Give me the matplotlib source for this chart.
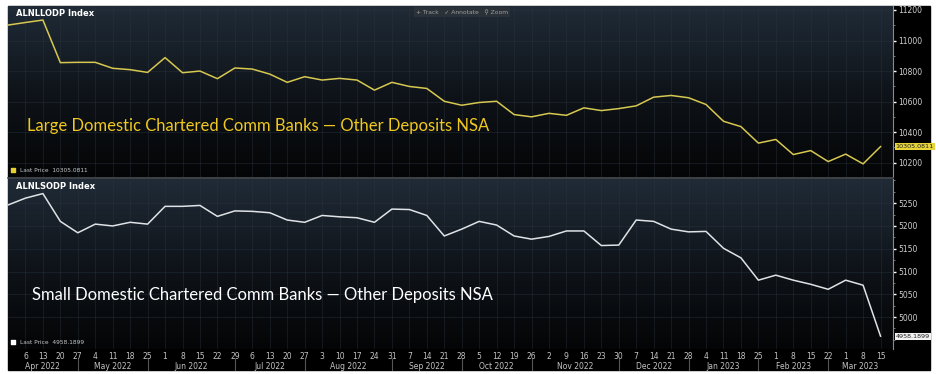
import numpy as np
import pandas as pd
import matplotlib
matplotlib.use("Agg")
import matplotlib.pyplot as plt
from matplotlib.colors import LinearSegmentedColormap
from matplotlib.lines import Line2D
from matplotlib.patches import Rectangle
from matplotlib.transforms import blended_transform_factory

# weekly observations (Wednesdays), Mar 30 2022 .. Mar 15 2023
dates = pd.date_range("2022-03-30", "2023-03-15", freq="7D")

large_deposits = [11101, 11118, 11134, 10855, 10857, 10857, 10818, 10809, 10791,
                  10888, 10789, 10800, 10750, 10820, 10813, 10780, 10726, 10763,
                  10741, 10752, 10741, 10675, 10726, 10699, 10686, 10602, 10576,
                  10594, 10602, 10515, 10500, 10523, 10510, 10559, 10541, 10554,
                  10572, 10629, 10640, 10625, 10581, 10471, 10436, 10328, 10352,
                  10253, 10279, 10207, 10256, 10192, 10305.0811]

small_deposits = [5246, 5261, 5271, 5210, 5185, 5204, 5200, 5208, 5204,
                  5243, 5243, 5245, 5221, 5233, 5232, 5229, 5213, 5208,
                  5223, 5220, 5218, 5208, 5237, 5236, 5223, 5178, 5193,
                  5210, 5202, 5178, 5171, 5177, 5189, 5189, 5157, 5158,
                  5213, 5210, 5193, 5187, 5188, 5151, 5130, 5081, 5092,
                  5081, 5072, 5061, 5081, 5070, 4958.1899]

large_ticks = [10200, 10400, 10600, 10800, 11000, 11200]
small_ticks = [5000, 5050, 5100, 5150, 5200, 5250]

W, H = 936, 374
fig = plt.figure(figsize=(W / 100, H / 100), dpi=100, facecolor="white")

# black terminal frame (behind the axes)
fig.patches.append(Rectangle((8 / W, 1 - 370 / H), 922 / W, 364 / H,
                             transform=fig.transFigure, color="black", zorder=-5))

ax1 = fig.add_axes([8 / W, 1 - 177 / H, 885 / W, 171 / H])
ax2 = fig.add_axes([8 / W, 1 - 349 / H, 885 / W, 170 / H])
for ax in (ax1, ax2):
    ax.set_zorder(1)
    ax.patch.set_alpha(0)

bg = LinearSegmentedColormap.from_list("bg", ["#040506", "#0f141a", "#202b37"])
grad = np.linspace(0, 1, 256).reshape(-1, 1)

xmin = dates[0]
xmax = dates[-1] + pd.Timedelta(days=5)


def style_panel(ax, ylim, ticks, minor_step):
    ax.imshow(grad, cmap=bg, origin="lower", aspect="auto",
              extent=[0, 1, 0, 1], transform=ax.transAxes, zorder=0)
    ax.set_xlim(xmin, xmax)
    ax.set_ylim(*ylim)
    ax.yaxis.tick_right()
    ax.set_yticks(ticks)
    ax.yaxis.set_minor_locator(plt.MultipleLocator(minor_step))
    ax.tick_params(axis="y", which="major", colors="white", labelcolor="#d0d0d0",
                   labelsize=5.5, length=2.5, width=1, pad=1)
    ax.tick_params(axis="y", which="minor", colors="#888888", length=1.5, width=0.6)
    ax.set_xticks(dates[1:])
    for s in ["top", "left", "bottom"]:
        ax.spines[s].set_visible(False)
    ax.spines["right"].set_color("#8a8a8a")
    ax.spines["right"].set_linewidth(0.8)
    ax.grid(True, color="#2a333e", linewidth=0.5, alpha=0.6)
    ax.set_axisbelow(True)


style_panel(ax1, (10106, 11226), large_ticks, 100)
style_panel(ax2, (4930, 5303), small_ticks, 25)

ax1.plot(dates, large_deposits, color="#d6c850", linewidth=1.1, zorder=3)
ax2.plot(dates, small_deposits, color="#dfe3e6", linewidth=1.1, zorder=3)

ax1.tick_params(axis="x", length=0, labelbottom=False)

# date axis
ax2.set_xticklabels([d.day for d in dates[1:]])
ax2.tick_params(axis="x", length=0, labelsize=5.5, labelcolor="#c4c4c4", pad=2)

xtr = ax2.get_xaxis_transform()
labelled = dates[1:]
month_ends = []
for key, grp in pd.Series(labelled, index=labelled).groupby([labelled.year, labelled.month]):
    month_ends.append(grp.iloc[-1])
bounds = [xmin] + month_ends[:-1] + [xmax]
for i, end in enumerate(month_ends):
    left, right = bounds[i], bounds[i + 1]
    mid = left + (right - left) / 2
    ax2.text(mid, -0.102, end.strftime("%b %Y"), transform=xtr, ha="center",
             va="center", fontsize=5.5, color="#c4c4c4", clip_on=False)
for end in month_ends[:-1]:
    ax2.plot([end, end], [-0.06, -0.125], transform=xtr, color="#555555",
             linewidth=0.8, clip_on=False)

# last price tags
for ax, val, face in [(ax1, large_deposits[-1], "#e8d638"), (ax2, small_deposits[-1], "#f2f2f2")]:
    tr = blended_transform_factory(ax.transAxes, ax.transData)
    ax.text(1.003, val, f"{val:.4f}", transform=tr, ha="left", va="center",
            fontsize=4.6, color="#202020", clip_on=False, zorder=6,
            bbox=dict(boxstyle="square,pad=0.15", facecolor=face, edgecolor="none"))

# headers
ax1.text(0.009, 0.955, "ALNLLODP Index", transform=ax1.transAxes, fontsize=6,
         fontweight="bold", color="white", va="center")
ax2.text(0.009, 0.955, "ALNLSODP Index", transform=ax2.transAxes, fontsize=6,
         fontweight="bold", color="white", va="center")

# legends
for ax, label, face in [(ax1, "Last Price  10305.0811", "#e8d030"), (ax2, "Last Price  4958.1899", "white")]:
    ax.scatter([0.006], [0.04], transform=ax.transAxes, marker="s", s=9,
               color=face, zorder=5, clip_on=False)
    ax.text(0.014, 0.04, label, transform=ax.transAxes, fontsize=4.2,
            color="#c8c8c8", va="center", zorder=5)

# overlay captions
ax1.text(0.022, 0.27, "Large Domestic Chartered Comm Banks \u2014 Other Deposits NSA",
         transform=ax1.transAxes, fontsize=12.0, color="#f0c820", family="Lato",
         va="baseline", zorder=4)
ax2.text(0.027, 0.29, "Small Domestic Chartered Comm Banks \u2014 Other Deposits NSA",
         transform=ax2.transAxes, fontsize=12.0, color="white", family="Lato",
         va="baseline", zorder=4)

# toolbar
fig.text(416 / W, 1 - 12 / H, "+ Track   \u2713 Annotate   \u26b2 Zoom", fontsize=4.3,
         color="#a0a0a0", va="center", zorder=10,
         bbox=dict(boxstyle="square,pad=0.35", facecolor="#2b3139", edgecolor="none"))

# panel divider
fig.lines.append(Line2D([8 / W, 893 / W], [1 - 178 / H, 1 - 178 / H],
                        transform=fig.transFigure, color="#4a4f55", linewidth=1.2, zorder=10))

fig.savefig("out.png", dpi=100, facecolor="white")
